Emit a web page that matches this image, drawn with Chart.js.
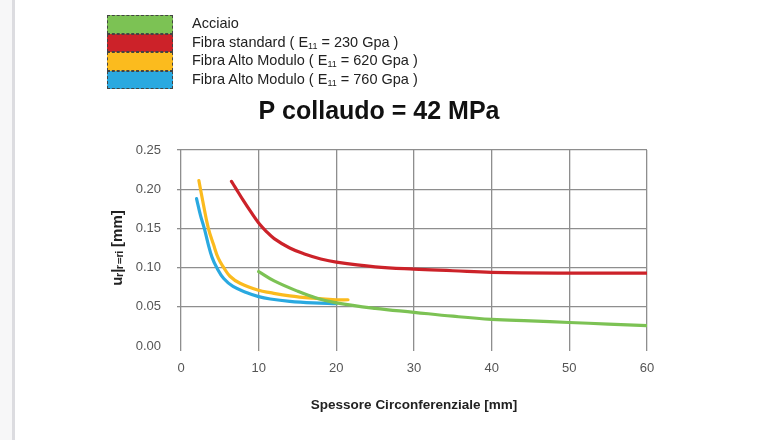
<!DOCTYPE html>
<html>
<head>
<meta charset="utf-8">
<script src="https://cdn.jsdelivr.net/npm/chart.js@4/dist/chart.umd.min.js"></script>
<style>
  html, body { margin: 0; padding: 0; background: #fff; }
  #wrap { position: relative; width: 757px; height: 440px; overflow: hidden; }
  #edge { position: absolute; left: 0; top: 0; width: 12px; height: 440px; background: #f7f7f8; }
  #stripe { position: absolute; left: 12px; top: 0; width: 3px; height: 440px; background: #dcdce0; }
  #chart { position: absolute; left: 0; top: 0; }
  #legend { position: absolute; left: 107px; top: 15px; font-family: "Liberation Sans", Arial, sans-serif; font-size: 14.5px; color: #222; }
  .row { height: 18.5px; line-height: 18.5px; white-space: nowrap; position: relative; }
  .sw { position: absolute; left: 0; top: 0; width: 66px; height: 18.5px; box-sizing: border-box; border: 1px dashed #444; }
  .lbl { position: absolute; left: 85px; top: -1px; }
  sub { font-size: 9px; vertical-align: -2px; line-height: 0; }
</style>
</head>
<body>
<div id="wrap">
  <div id="edge"></div>
  <div id="stripe"></div>
  <canvas id="chart" width="757" height="440"></canvas>
  <div id="legend"></div>
</div>
<script>
// Spessore (mm) and u_r (mm)
const acciaioX = [10, 12, 15, 17.5, 20, 25, 30, 35, 40, 45, 50, 55, 60];
const acciaioY = [0.095, 0.083, 0.070, 0.061, 0.055, 0.048, 0.043, 0.038, 0.034, 0.032, 0.030, 0.028, 0.026];

const standardX = [6.5, 7, 8, 9, 10, 11, 12, 14, 16, 18, 20, 25, 30, 35, 40, 50, 60];
const standardY = [0.210, 0.202, 0.186, 0.171, 0.157, 0.146, 0.137, 0.125, 0.117, 0.111, 0.107, 0.101, 0.098, 0.096, 0.094, 0.093, 0.093];

const alto620X = [2.3, 2.8, 3.5, 4.2, 4.8, 5.5, 6.3, 7.6, 10, 11.5, 14, 17, 20, 21.5];
const alto620Y = [0.211, 0.185, 0.151, 0.129, 0.112, 0.100, 0.089, 0.080, 0.071, 0.068, 0.064, 0.061, 0.059, 0.059];

const alto760X = [2.0, 2.5, 3, 3.5, 4, 4.6, 5.5, 6.7, 8.5, 10, 11.5, 14, 17, 20];
const alto760Y = [0.188, 0.167, 0.150, 0.130, 0.113, 0.100, 0.086, 0.076, 0.068, 0.063, 0.060, 0.057, 0.055, 0.054];

const xTicks = [0, 10, 20, 30, 40, 50, 60];
const yTicks = [0, 0.05, 0.10, 0.15, 0.20, 0.25];

const seriesNames = ["Acciaio", "Fibra standard", "Fibra Alto Modulo", "Fibra Alto Modulo"];
const seriesModulus = ["", "230", "620", "760"];
const seriesColors = ["#7cc254", "#cc2229", "#fbbb1e", "#2aa9e0"];

function toPoints(xs, ys) {
    return xs.map((x, i) => ({ x: x, y: ys[i] }));
}

const allPoints = [
    toPoints(acciaioX, acciaioY),
    toPoints(standardX, standardY),
    toPoints(alto620X, alto620Y),
    toPoints(alto760X, alto760Y)
];

// Build the legend block (stacked swatches, labels to the right)
const legendEl = document.getElementById("legend");
seriesNames.forEach((name, i) => {
    const row = document.createElement("div");
    row.className = "row";
    const sw = document.createElement("div");
    sw.className = "sw";
    sw.style.background = seriesColors[i];
    const lbl = document.createElement("div");
    lbl.className = "lbl";
    if (seriesModulus[i]) {
        lbl.innerHTML = name + " ( E<sub>11</sub> = " + seriesModulus[i] + " Gpa )";
    } else {
        lbl.textContent = name;
    }
    row.appendChild(sw);
    row.appendChild(lbl);
    legendEl.appendChild(row);
});

// Title drawn at a fixed spot above the plot
const titlePlugin = {
    id: "titleText",
    afterDraw(chart) {
        const ctx = chart.ctx;
        ctx.save();
        ctx.font = "bold 25px 'Liberation Sans', Arial, sans-serif";
        ctx.fillStyle = "#111";
        ctx.textAlign = "center";
        ctx.textBaseline = "middle";
        ctx.fillText("P collaudo = 42 MPa", 379, 112);
        ctx.restore();
    }
};

const gridColor = "#8e8e8e";

const ctx = document.getElementById("chart").getContext("2d");
const myChart = new Chart(ctx, {
    type: "line",
    data: {
        datasets: allPoints.map((pts, i) => ({
            label: seriesNames[i],
            data: pts,
            borderColor: seriesColors[i],
            borderWidth: 3.2,
            borderCapStyle: "round",
            borderJoinStyle: "round",
            pointRadius: 0,
            fill: false,
            tension: 0.4
        }))
    },
    options: {
        responsive: false,
        animation: false,
        layout: {
            padding: { top: 150, right: 110, left: 0, bottom: 0 }
        },
        plugins: {
            legend: { display: false },
            tooltip: { enabled: false }
        },
        scales: {
            x: {
                type: "linear",
                min: 0,
                max: 60,
                afterFit: function (scale) { scale.height = 94; },
                afterBuildTicks: function (scale) { scale.ticks = xTicks.map(v => ({ value: v })); },
                border: { display: false },
                grid: { color: gridColor, lineWidth: 1.3, tickLength: 5 },
                ticks: {
                    padding: 10,
                    color: "#555",
                    font: { family: "'Liberation Sans', Arial, sans-serif", size: 13 }
                },
                title: {
                    display: true,
                    text: "Spessore Circonferenziale [mm]",
                    color: "#222",
                    font: { family: "'Liberation Sans', Arial, sans-serif", size: 13.5, weight: "bold" },
                    padding: { top: 0, bottom: 27 }
                }
            },
            y: {
                type: "linear",
                min: 0,
                max: 0.25,
                afterFit: function (scale) { scale.width = 181; },
                afterBuildTicks: function (scale) { scale.ticks = yTicks.map(v => ({ value: v })); },
                border: { display: false },
                grid: {
                    color: c => (c.tick && c.tick.value === 0 ? "rgba(0,0,0,0)" : gridColor),
                    lineWidth: 1.3,
                    tickLength: 4
                },
                ticks: {
                    padding: 16,
                    color: "#555",
                    font: { family: "'Liberation Sans', Arial, sans-serif", size: 13 },
                    callback: v => v.toFixed(2)
                },
                title: {
                    display: true,
                    text: "uᵣ|ᵣ₌ᵣᵢ [mm]",
                    color: "#222",
                    font: { family: "'Liberation Sans', 'DejaVu Sans', sans-serif", size: 15, weight: "bold" },
                    padding: { top: 109, bottom: 0 }
                }
            }
        }
    },
    plugins: [titlePlugin]
});
</script>
</body>
</html>
